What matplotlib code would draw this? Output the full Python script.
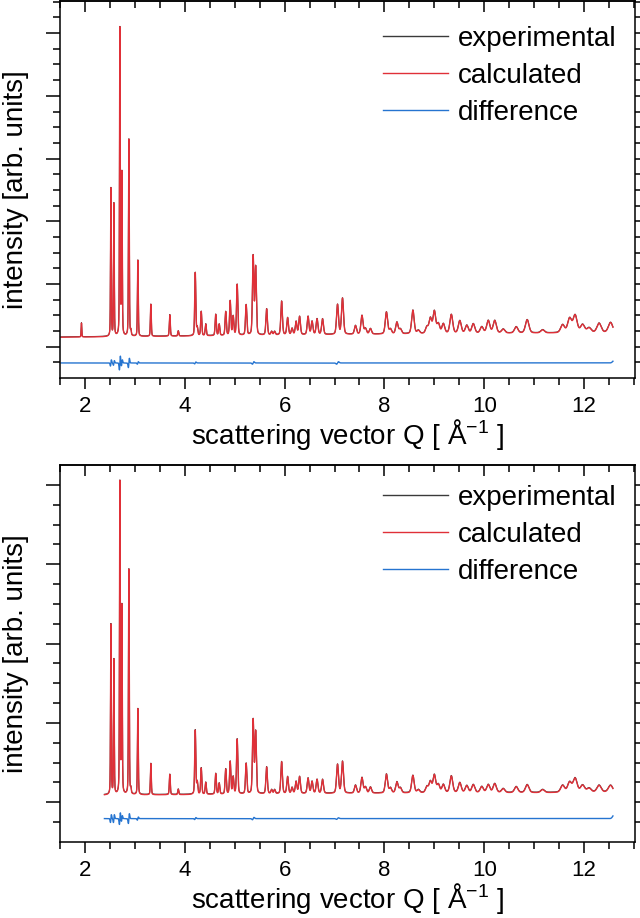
import numpy as np
import matplotlib
matplotlib.use("Agg")
import matplotlib.pyplot as plt

plt.rcParams["font.family"] = ["Liberation Sans", "DejaVu Sans"]
plt.rcParams["mathtext.default"] = "regular"

# peak positions (Q, 1/A) shared by both refinements
peak_q = [1.93, 2.52, 2.58, 2.70, 2.74, 2.88, 2.92, 3.06, 3.32, 3.70, 3.87,
          4.21, 4.25, 4.33, 4.42, 4.62, 4.69, 4.82, 4.91, 4.97, 5.05, 5.23,
          5.37, 5.42, 5.64, 5.74, 5.80, 5.94, 6.06, 6.15, 6.23, 6.30, 6.47,
          6.55, 6.65, 6.76, 7.06, 7.16, 7.42, 7.55, 7.62, 7.72, 8.04, 8.12,
          8.25, 8.32, 8.57, 8.68, 8.85, 8.92, 9.00, 9.08, 9.18, 9.34, 9.51,
          9.65, 9.78, 9.95, 10.08, 10.21, 10.38, 10.64, 10.86, 11.17, 11.57,
          11.71, 11.82, 11.97, 12.10, 12.30, 12.53]

# peak heights above background, top panel
peak_h_top = [0.89, 9.44, 8.44, 19.6, 10.3, 12.56, 0.3, 4.85, 2.04, 1.36, 0.33,
              4.03, 0.5, 1.54, 0.74, 1.35, 0.72, 1.51, 2.19, 1.2, 3.24, 1.93,
              5.0, 4.3, 1.67, 0.22, 0.22, 2.15, 1.09, 0.4, 0.84, 1.16, 1.16,
              0.84, 1.0, 1.0, 1.9, 2.3, 0.55, 1.19, 0.35, 0.35, 1.4, 0.3,
              0.74, 0.3, 1.5, 0.2, 0.4, 0.95, 1.4, 0.6, 0.6, 1.2, 0.8,
              0.5, 0.6, 0.4, 0.8, 0.8, 0.25, 0.4, 0.85, 0.2, 0.5,
              0.9, 1.1, 0.5, 0.3, 0.6, 0.65]

# peak heights above background, bottom panel
peak_h_bot = [0.0, 8.57, 6.78, 15.7, 9.4, 11.35, 0.25, 4.33, 1.57, 1.02, 0.27,
              3.23, 0.6, 1.32, 0.6, 1.04, 0.55, 1.26, 1.63, 0.85, 2.76, 1.53,
              3.7, 3.1, 1.35, 0.2, 0.2, 1.61, 0.85, 0.3, 0.6, 0.85, 0.77,
              0.6, 0.7, 0.7, 1.45, 1.6, 0.4, 0.78, 0.3, 0.3, 0.95, 0.25,
              0.55, 0.25, 0.88, 0.15, 0.3, 0.55, 0.88, 0.4, 0.4, 0.84, 0.5,
              0.35, 0.4, 0.3, 0.4, 0.45, 0.2, 0.3, 0.4, 0.15, 0.35,
              0.5, 0.7, 0.35, 0.2, 0.35, 0.35]

# background levels
bg_q = [1.5, 3.0, 5.0, 7.0, 9.0, 11.0, 12.6]
bg_top = [2.60, 2.64, 2.70, 2.76, 2.82, 2.86, 2.88]
bg_bot = [2.35, 2.37, 2.40, 2.44, 2.47, 2.48, 2.50]

# difference curve: offset and misfit amplitudes at the strong peaks
diff_q = [2.52, 2.58, 2.70, 2.74, 2.88, 3.06, 4.21, 5.37, 7.06, 12.60]
diff_top = [0.20, 0.15, 0.45, 0.20, 0.30, 0.08, 0.06, 0.08, 0.08, 0.15]
diff_bot = [0.20, 0.20, 0.30, 0.15, 0.25, 0.08, 0.05, 0.06, 0.04, 0.18]
diff_off_top = 0.96
diff_off_bot = 1.18


def pattern(q, heights, bgy):
    y = np.interp(q, bg_q, bgy)
    for p, h in zip(peak_q, heights):
        w = 0.008 + 0.0025 * p + 0.0004 * p ** 2
        g = np.exp(-4 * np.log(2) * ((q - p) / w) ** 2)
        lo = 1 / (1 + 4 * ((q - p) / w) ** 2)
        y += h * (0.7 * g + 0.3 * lo)
    return y


def difference(q, amps, off):
    y = np.full_like(q, off)
    for p, a in zip(diff_q, amps):
        if p > 12.5:
            y += a * np.exp(-((q - p) / 0.04) ** 2)
            continue
        s = 0.006 + 0.003 * p
        u = (q - p) / s
        y += a * 2.3 * u * np.exp(-u ** 2)
    return y


panels = [
    dict(rect=[60 / 640, 1 - 378 / 918, 575 / 640, 377 / 918], start=1.52,
         h=peak_h_top, bg=bg_top, da=diff_top, doff=diff_off_top,
         ylim=(0, 24.05), leg_y=0.935),
    dict(rect=[60 / 640, 1 - 842 / 918, 575 / 640, 377 / 918], start=2.39,
         h=peak_h_bot, bg=bg_bot, da=diff_bot, doff=diff_off_bot,
         ylim=(0, 19.0), leg_y=0.948),
]

fig = plt.figure(figsize=(6.4, 9.18), dpi=100)

for pn in panels:
    ax = fig.add_axes(pn["rect"])
    q = np.arange(pn["start"], 12.58, 0.002)
    calc = pattern(q, pn["h"], pn["bg"])
    diff = difference(q, pn["da"], pn["doff"])

    ax.plot(q, calc + 0.02, color="#3a3a3a", lw=0.8, label="experimental")
    ax.plot(q, calc, color="#e03038", lw=1.0, label="calculated")
    ax.plot(q, diff, color="#2574d0", lw=1.0, label="difference")

    ax.set_xlim(1.5, 13.02)
    ax.set_ylim(*pn["ylim"])
    ax.set_xticks(np.arange(2, 13, 2))
    ax.set_xticks(np.arange(1.5, 13.01, 0.5), minor=True)
    ax.set_yticks(np.arange(2, pn["ylim"][1], 4))
    ax.set_yticks(np.arange(1, pn["ylim"][1], 1), minor=True)
    ax.set_yticklabels([])

    for s in ax.spines.values():
        s.set_linewidth(1.1)
    ax.tick_params(axis="x", which="both", direction="out", top=False,
                   labelsize=16, pad=5, width=1.1)
    ax.tick_params(axis="x", which="major", length=8)
    ax.tick_params(axis="x", which="minor", length=5)
    ax.tick_params(axis="y", which="both", direction="out", right=True,
                   width=1.1)
    ax.tick_params(axis="y", which="major", length=10)
    ax.tick_params(axis="y", which="minor", length=5)
    sec = ax.secondary_xaxis("top")
    sec.set_xticks(np.arange(2, 13, 2))
    sec.set_xticks(np.arange(1.5, 13.01, 0.5), minor=True)
    sec.tick_params(which="both", direction="in", labeltop=False, width=1.1)
    sec.tick_params(which="major", length=8)
    sec.tick_params(which="minor", length=5)
    sec.spines["top"].set_linewidth(1.1)

    ax.set_xlabel("scattering vector Q [ Å$^{-1}$ ]", fontsize=20, labelpad=0)
    ax.set_ylabel("intensity [arb. units]", fontsize=20, labelpad=9)

    leg = ax.legend(loc="upper left", bbox_to_anchor=(0.5617, pn["leg_y"]),
                    frameon=False, fontsize=20, handlelength=2.35,
                    handletextpad=0.35, labelspacing=0.4, borderpad=0,
                    borderaxespad=0)
    for line in leg.get_lines():
        line.set_linewidth(1.0)

fig.savefig("out.png", dpi=100)
